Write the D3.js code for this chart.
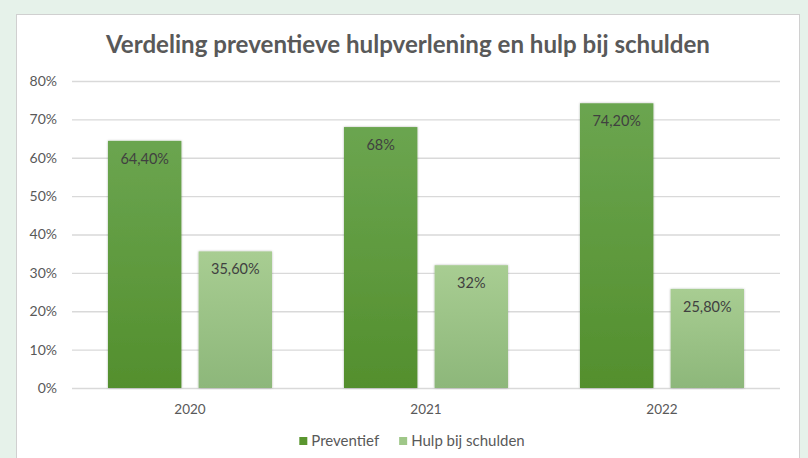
<!DOCTYPE html>
<html><head><meta charset="utf-8">
<script src="https://cdn.jsdelivr.net/npm/d3@7"></script>
<style>
html,body{margin:0;padding:0;background:#e6f2ea;}
svg{display:block;}
text{font-family:Lato,"Open Sans",sans-serif;}
</style></head>
<body>
<svg id="c" width="808" height="458"></svg>
<script>
const categories = ["2020", "2021", "2022"];
const seriesNames = ["Preventief", "Hulp bij schulden"];
const preventief = [64.4, 68, 74.2];
const hulp = [35.6, 32, 25.8];
const valueLabelsPreventief = ["64,40%", "68%", "74,20%"];
const valueLabelsHulp = ["35,60%", "32%", "25,80%"];
const yTicks = [0, 10, 20, 30, 40, 50, 60, 70, 80];

const svg = d3.select("#c");
const defs = svg.append("defs");
function grad(id, top, bottom){
  const g = defs.append("linearGradient").attr("id", id).attr("x1",0).attr("y1",0).attr("x2",0).attr("y2",1);
  g.append("stop").attr("offset","0%").attr("stop-color",top);
  g.append("stop").attr("offset","100%").attr("stop-color",bottom);
}
grad("gP", "#6ba550", "#538f2d");
grad("gH", "#a8cd92", "#8db77a");
const f = defs.append("filter").attr("id","sh").attr("x","-20%").attr("y","-5%").attr("width","140%").attr("height","110%");
f.append("feDropShadow").attr("dx",0).attr("dy",0).attr("stdDeviation",1.3).attr("flood-color","#000").attr("flood-opacity",0.3);

// white panel
svg.append("rect").attr("x",16.5).attr("y",14.5).attr("width",783).attr("height",450)
  .attr("fill","#fff").attr("stroke","#d0d0d0").attr("stroke-width",1);

const m = {left:72, right:780, top:81, bottom:388};
const x = d3.scaleBand().domain(categories).range([m.left, m.right]).paddingInner(0.305).paddingOuter(0.1525);
const x1 = d3.scaleBand().domain(seriesNames).range([0, x.bandwidth()]).paddingInner(0.19);
const y = d3.scaleLinear().domain([0, 80]).range([m.bottom, m.top]);

// gridlines
const yAxis = d3.axisLeft(y).tickValues(yTicks).tickFormat(d => d + "%").tickSize(-(m.right - m.left)).tickPadding(15);
const ga = svg.append("g").attr("transform", `translate(${m.left},0)`).call(yAxis);
ga.select(".domain").remove();
ga.selectAll(".tick line").attr("stroke","#d9d9d9").attr("stroke-width",1.3);
ga.selectAll(".tick text").attr("fill","#595959").attr("font-size","14px");

// x axis labels
const xAxis = d3.axisBottom(x).tickSize(0).tickPadding(16);
const gx = svg.append("g").attr("transform", `translate(0,${m.bottom})`).call(xAxis);
gx.select(".domain").remove();
gx.selectAll(".tick text").attr("fill","#595959").attr("font-size","13.5px");

const data = categories.map((c,i) => ({c, vals:[
  {s:seriesNames[0], v:preventief[i], lab:valueLabelsPreventief[i], fill:"url(#gP)"},
  {s:seriesNames[1], v:hulp[i], lab:valueLabelsHulp[i], fill:"url(#gH)"}
]}));

const groups = svg.append("g").selectAll("g").data(data).join("g")
  .attr("transform", d => `translate(${x(d.c)},0)`);
groups.selectAll("rect").data(d => d.vals).join("rect")
  .attr("x", d => x1(d.s)).attr("width", x1.bandwidth())
  .attr("y", d => y(d.v)).attr("height", d => y(0) - y(d.v))
  .attr("fill", d => d.fill).attr("filter","url(#sh)");
groups.selectAll("text.v").data(d => d.vals).join("text").attr("class","v")
  .attr("x", d => x1(d.s) + x1.bandwidth()/2).attr("y", d => y(d.v) + 23)
  .attr("text-anchor","middle").attr("fill","#404040").attr("font-size","14.5px")
  .text(d => d.lab);

// title
const title = svg.append("text").attr("x", 408).attr("y", 53).attr("text-anchor","middle")
  .attr("font-size","21px").attr("font-weight","bold").attr("fill","#595959")
  .text("Verdeling preventieve hulpverlening en hulp bij schulden");
const tw = title.node().getComputedTextLength();
title.attr("font-size", (21 * 604 / tw).toFixed(2) + "px");

// legend
const legend = svg.append("g");
const colors = ["#5a962f", "#9fc788"];
let lx = 0;
seriesNames.forEach((n,i) => {
  const g = legend.append("g");
  g.append("rect").attr("x",0).attr("y",-9).attr("width",8).attr("height",8).attr("fill",colors[i]);
  const t = g.append("text").attr("x",12).attr("y",0).attr("font-size","15px").attr("fill","#595959").text(n);
  const w = 12 + t.node().getComputedTextLength();
  g.attr("transform", `translate(${lx},0)`);
  lx += w + 20;
});
const totalW = lx - 20;
legend.attr("transform", `translate(${412 - totalW/2},446)`);
</script>
</body></html>
